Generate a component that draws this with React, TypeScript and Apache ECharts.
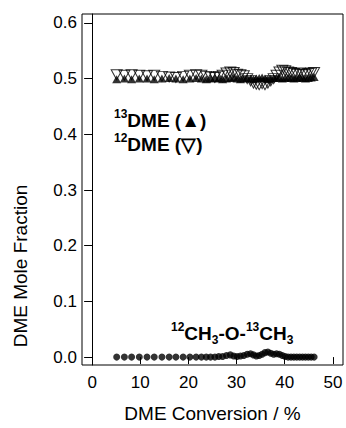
import React, { useEffect, useRef } from "react";
import * as echarts from "echarts";

const conversion = [
  5.1, 6.7, 8.2, 9.8, 11.4, 12.9, 14.5, 16.0, 17.4, 18.9, 20.3, 21.6, 22.7, 23.7,
  24.6, 25.5, 26.3, 27.1, 27.9, 28.7, 29.4, 30.1, 30.8, 31.5, 32.2, 32.9, 33.5, 34.1,
  34.7, 35.3, 35.9, 36.5, 37.1, 37.7, 38.3, 38.9, 39.5, 40.1, 40.7, 41.3, 41.9, 42.5,
  43.1, 43.7, 44.3, 44.9, 45.5, 46.1,
];
const dme13 = [
  0.499, 0.5, 0.499, 0.5, 0.5, 0.499, 0.5, 0.501, 0.5, 0.499, 0.5, 0.501, 0.5, 0.499,
  0.5, 0.501, 0.5, 0.499, 0.5, 0.501, 0.502, 0.5, 0.499, 0.5, 0.501, 0.5, 0.499, 0.5,
  0.501, 0.502, 0.5, 0.499, 0.5, 0.501, 0.502, 0.501, 0.5, 0.501, 0.502, 0.501, 0.5, 0.501,
  0.502, 0.501, 0.5, 0.501, 0.502, 0.503,
];
const dme12 = [
  0.507, 0.506, 0.507, 0.506, 0.505, 0.506, 0.504, 0.503, 0.502, 0.504, 0.506, 0.507, 0.506, 0.504,
  0.503, 0.502, 0.504, 0.506, 0.51, 0.512, 0.511, 0.508, 0.507, 0.505, 0.5, 0.496, 0.492, 0.49,
  0.489, 0.491, 0.489, 0.492, 0.496, 0.5, 0.506, 0.512, 0.515, 0.514, 0.512, 0.511, 0.509, 0.508,
  0.51, 0.508, 0.507, 0.509, 0.51, 0.511,
];
const mixed = [
  0, 0, 0, 0, 0, 0, 0, 0, 0, 0, 0, 0, 0, 0,
  0, 0, 0.001, 0.001, 0.003, 0.004, 0.002, 0.001, 0.002, 0.003, 0.005, 0.006, 0.004, 0.002,
  0.003, 0.005, 0.008, 0.009, 0.007, 0.005, 0.006, 0.005, 0.003, 0.001, 0, 0, 0, 0,
  0, 0, 0, 0, 0, 0,
];
const xTicks = [0, 10, 20, 30, 40, 50];
const yTicks = [0, 0.1, 0.2, 0.3, 0.4, 0.5, 0.6];

const FONT = "'Liberation Sans', Arial, sans-serif";

export default function App() {
  const ref = useRef<HTMLDivElement>(null);
  useEffect(() => {
    if (!ref.current) return;
    const chart = echarts.init(ref.current, null, { renderer: "svg" });
    const pair = (ys: number[]) => conversion.map((x, i) => [x, ys[i]]);
    chart.setOption({
      animation: false,
      backgroundColor: "#fff",
      textStyle: { fontFamily: FONT, color: "#000" },
      grid: {
        left: 82, right: 3, top: 14, bottom: 60,
        show: true, borderColor: "#000", borderWidth: 1, backgroundColor: "transparent",
      },
      xAxis: {
        type: "value", min: -2.1, max: 52.1, offset: 3,
        name: "DME Conversion / %", nameLocation: "middle", nameGap: 36,
        nameTextStyle: { fontSize: 19, color: "#000", fontFamily: FONT },
        axisLine: { show: false },
        axisTick: { show: true, length: 7, customValues: xTicks, lineStyle: { color: "#000" } },
        axisLabel: { customValues: xTicks, fontSize: 17, color: "#000", margin: 6, fontFamily: FONT },
        splitLine: { show: false },
      },
      yAxis: {
        type: "value", min: -0.0142, max: 0.616,
        axisLine: { show: true, lineStyle: { color: "#000" } },
        axisTick: { show: true, length: 8, customValues: yTicks, lineStyle: { color: "#000" } },
        axisLabel: {
          customValues: yTicks, fontSize: 17, color: "#000", margin: 5, fontFamily: FONT,
          formatter: (v: number) => v.toFixed(1),
        },
        splitLine: { show: false },
      },
      series: [
        {
          name: "12DME", type: "scatter", data: pair(dme12), symbol: "triangle", symbolRotate: 180,
          symbolSize: [11, 10], itemStyle: { color: "rgba(255,255,255,0)", borderColor: "#000", borderWidth: 1 },
        },
        {
          name: "13DME", type: "scatter", data: pair(dme13), symbol: "triangle",
          symbolSize: [9, 8], itemStyle: { color: "#000" },
        },
        {
          name: "12CH3-O-13CH3", type: "scatter", data: pair(mixed), symbol: "circle",
          symbolSize: 7, itemStyle: { color: "#000" },
        },
      ],
      graphic: [
        {
          type: "text", x: 20, y: 266, rotation: Math.PI / 2,
          style: {
            text: "DME Mole Fraction", fill: "#000", fontSize: 19, fontFamily: FONT,
            align: "center", verticalAlign: "middle",
          },
        },
        {
          type: "text", left: 114, top: 108,
          style: {
            text: "{sup|13}{b|DME (▲)}\n{sup|12}{b|DME (▽)}",
            fill: "#000",
            rich: {
              sup: { fontSize: 12, fontWeight: "bold", verticalAlign: "top", fontFamily: FONT, lineHeight: 24 },
              b: { fontSize: 19, fontWeight: "bold", fontFamily: FONT, lineHeight: 24 },
            },
          },
        },
        {
          type: "text", left: 171, top: 321,
          style: {
            text: "{sup|12}{b|CH}{sub|3}{b|-O-}{sup|13}{b|CH}{sub|3}",
            fill: "#000",
            rich: {
              sup: { fontSize: 12, fontWeight: "bold", verticalAlign: "top", fontFamily: FONT, lineHeight: 25 },
              sub: { fontSize: 12, fontWeight: "bold", verticalAlign: "bottom", fontFamily: FONT, lineHeight: 25 },
              b: { fontSize: 19, fontWeight: "bold", fontFamily: FONT, lineHeight: 25 },
            },
          },
        },
      ],
    });
    return () => chart.dispose();
  }, []);
  return <div ref={ref} style={{ width: 346, height: 428, position: "absolute", left: 0, top: 0 }} />;
}
